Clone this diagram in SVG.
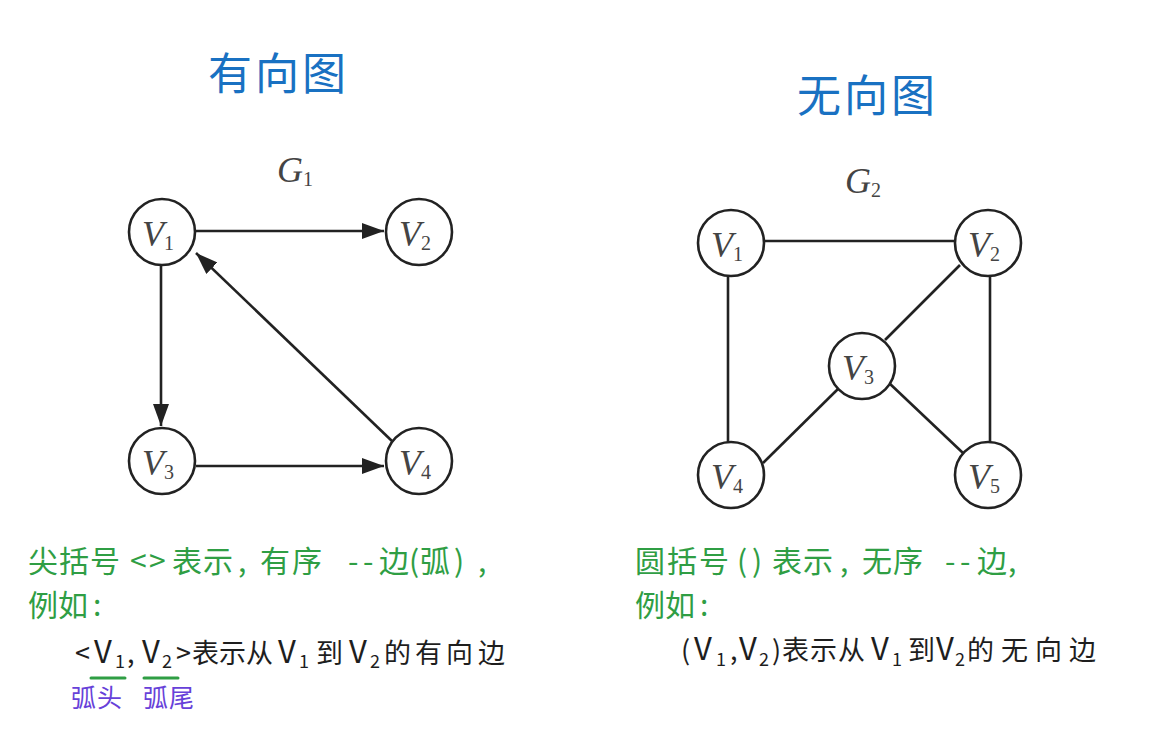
<svg xmlns="http://www.w3.org/2000/svg" width="1174" height="739" viewBox="0 0 1174 739">
  <style>
    .bg { fill: #ffffff; }
    .node circle { fill: #ffffff; stroke: #222222; stroke-width: 2.6; }
    .lbl { font-family: "Liberation Serif", "Times New Roman", serif; font-style: italic; font-size: 36px; fill: #444444; }
    .sub { font-size: 20px; font-style: normal; }
    .edge { stroke: #222222; stroke-width: 2.6; fill: none; }
    .title { font-family: "Noto Sans CJK SC", "Noto Sans", sans-serif; font-size: 44px; fill: #1971c2; letter-spacing: 3px; }
    .green { font-family: "Noto Sans CJK SC", "Noto Sans", sans-serif; font-size: 30px; fill: #2f9e44; }
    .black { font-family: "Noto Sans CJK SC", "Noto Sans", sans-serif; font-size: 27px; fill: #1e1e1e; }
    .bv { font-size: 31px; }
    .bsub { font-size: 18px; }
    .violet { font-family: "Noto Sans CJK SC", "Noto Sans", sans-serif; font-size: 25px; fill: #6741d9; }
    .uline { stroke: #2f9e44; stroke-width: 3; stroke-linecap: round; }
  </style>
  <defs>
    <marker id="arrow" markerUnits="userSpaceOnUse" markerWidth="22" markerHeight="16" viewBox="0 0 22 16" refX="22" refY="8" orient="auto">
      <path d="M0,0 L22,8 L0,16 z" fill="#222222"/>
    </marker>
  </defs>
  <rect class="bg" x="0" y="0" width="1174" height="739"/>

  <!-- Titles -->
  <text id="title-directed" class="title" x="208" y="90">有向图</text>
  <text id="title-undirected" class="title" x="797" y="112">无向图</text>

  <!-- Graph labels -->
  <text id="label-G1" class="lbl" x="277" y="182" font-size="31">G<tspan class="sub" dy="4">1</tspan></text>
  <text id="label-G2" class="lbl" x="845" y="193" font-size="31">G<tspan class="sub" dy="4">2</tspan></text>

  <!-- Connectors -->
  <g id="connectors">
    <line class="edge" x1="196" y1="231" x2="384" y2="231" marker-end="url(#arrow)"/>
    <line class="edge" x1="161" y1="266" x2="161" y2="426" marker-end="url(#arrow)"/>
    <line class="edge" x1="196" y1="466" x2="384" y2="466" marker-end="url(#arrow)"/>
    <line class="edge" x1="393" y1="442" x2="196" y2="253" marker-end="url(#arrow)"/>

    <line class="edge" x1="765" y1="241" x2="954" y2="241"/>
    <line class="edge" x1="728" y1="277" x2="728" y2="442"/>
    <line class="edge" x1="990" y1="277" x2="990" y2="442"/>
    <line class="edge" x1="960" y1="265" x2="885" y2="340"/>
    <line class="edge" x1="840" y1="387" x2="763" y2="463"/>
    <line class="edge" x1="888" y1="382" x2="963" y2="453"/>
  </g>

  <!-- G1 nodes -->
  <g id="g1-v1" class="node"><circle cx="162" cy="232" r="33"/><text class="lbl" x="158" y="246" text-anchor="middle">V<tspan class="sub" dy="4">1</tspan></text></g>
  <g id="g1-v2" class="node"><circle cx="419" cy="232" r="33"/><text class="lbl" x="415" y="246" text-anchor="middle">V<tspan class="sub" dy="4">2</tspan></text></g>
  <g id="g1-v3" class="node"><circle cx="162" cy="461" r="33"/><text class="lbl" x="158" y="475" text-anchor="middle">V<tspan class="sub" dy="4">3</tspan></text></g>
  <g id="g1-v4" class="node"><circle cx="419" cy="461" r="33"/><text class="lbl" x="415" y="475" text-anchor="middle">V<tspan class="sub" dy="4">4</tspan></text></g>

  <!-- G2 nodes -->
  <g id="g2-v1" class="node"><circle cx="731" cy="243" r="33"/><text class="lbl" x="727" y="257" text-anchor="middle">V<tspan class="sub" dy="4">1</tspan></text></g>
  <g id="g2-v2" class="node"><circle cx="988" cy="243" r="33"/><text class="lbl" x="984" y="257" text-anchor="middle">V<tspan class="sub" dy="4">2</tspan></text></g>
  <g id="g2-v3" class="node"><circle cx="862" cy="366" r="33"/><text class="lbl" x="858" y="380" text-anchor="middle">V<tspan class="sub" dy="4">3</tspan></text></g>
  <g id="g2-v4" class="node"><circle cx="731" cy="475" r="33"/><text class="lbl" x="727" y="489" text-anchor="middle">V<tspan class="sub" dy="4">4</tspan></text></g>
  <g id="g2-v5" class="node"><circle cx="988" cy="475" r="33"/><text class="lbl" x="984" y="489" text-anchor="middle">V<tspan class="sub" dy="4">5</tspan></text></g>

  <!-- Left explanation -->
  <g id="note-left">
    <text class="green"><tspan x="28 59 90" y="572">尖括号</tspan><tspan x="130 149" y="572">&lt;&gt;</tspan><tspan x="172 203" y="572">表示</tspan><tspan x="238" y="572">,</tspan><tspan x="260 292" y="572">有序</tspan><tspan x="348 363" y="572">--</tspan><tspan x="379" y="572">边</tspan><tspan x="409" y="572">(</tspan><tspan x="420" y="572">弧</tspan><tspan x="454" y="572">)</tspan><tspan x="478" y="572">,</tspan></text>
    <text class="green"><tspan x="28 58 93" y="616">例如:</tspan></text>
    <text class="black"><tspan x="75" y="663">&lt;</tspan><tspan class="bv" x="94" y="663">V</tspan><tspan class="bsub" x="115" y="668">1</tspan><tspan x="127" y="663">,</tspan><tspan class="bv" x="142" y="663">V</tspan><tspan class="bsub" x="162" y="668">2</tspan><tspan x="176" y="663">&gt;</tspan><tspan x="192 219 246" y="663">表示从</tspan><tspan class="bv" x="278" y="663">V</tspan><tspan class="bsub" x="299" y="668">1</tspan><tspan x="316" y="663">到</tspan><tspan class="bv" x="349" y="663">V</tspan><tspan class="bsub" x="370" y="668">2</tspan><tspan x="384 415 446 478" y="663">的有向边</tspan></text>
    <line class="uline" x1="91" y1="678" x2="125" y2="678"/>
    <line class="uline" x1="144" y1="678" x2="178" y2="678"/>
    <text class="violet"><tspan x="71 97" y="707">弧头</tspan><tspan x="143 169" y="707">弧尾</tspan></text>
  </g>

  <!-- Right explanation -->
  <g id="note-right">
    <text class="green"><tspan x="635 667 699" y="572">圆括号</tspan><tspan x="737 752" y="572">()</tspan><tspan x="772 803" y="572">表示</tspan><tspan x="840" y="572">,</tspan><tspan x="862 893" y="572">无序</tspan><tspan x="945 960" y="572">--</tspan><tspan x="977" y="572">边</tspan><tspan x="1008" y="572">,</tspan></text>
    <text class="green"><tspan x="635 665 700" y="616">例如:</tspan></text>
    <text class="black"><tspan x="681" y="660">(</tspan><tspan class="bv" x="694" y="660">V</tspan><tspan class="bsub" x="716" y="666">1</tspan><tspan x="730" y="660">,</tspan><tspan class="bv" x="739" y="660">V</tspan><tspan class="bsub" x="759" y="666">2</tspan><tspan x="772" y="660">)</tspan><tspan x="782 810 838" y="660">表示从</tspan><tspan class="bv" x="871" y="660">V</tspan><tspan class="bsub" x="892" y="666">1</tspan><tspan x="908" y="660">到</tspan><tspan class="bv" x="936" y="660">V</tspan><tspan class="bsub" x="955" y="666">2</tspan><tspan x="967 1001 1035 1069" y="660">的无向边</tspan></text>
  </g>
</svg>
